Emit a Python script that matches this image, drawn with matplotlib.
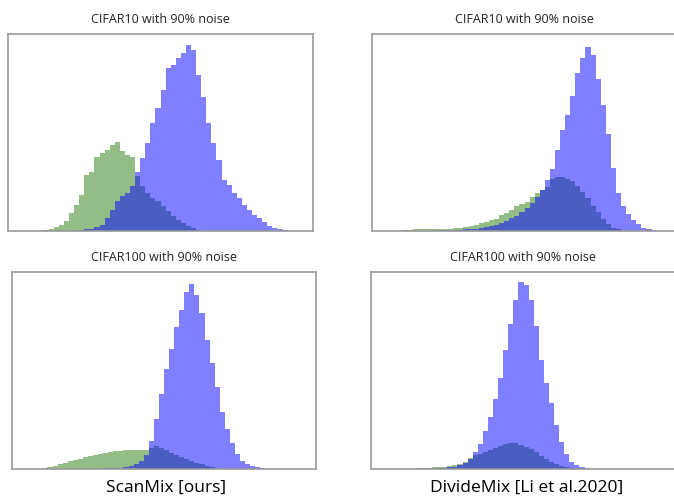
import numpy as np
import matplotlib.pyplot as plt

plt.rcParams['font.family'] = ['Open Sans', 'DejaVu Sans']

N_BINS = 60

# histogram heights, in percent of the panel height, 60 bins across each panel
scan_c10_clean = [0, 0, 0, 0, 0, 0, 0, 0.7, 1.2, 1.9,
                  3.2, 4.9, 9.1, 13.3, 18.4, 28.5, 30.2, 37.8, 39.5, 40.9,
                  43.8, 45.4, 40.4, 38.7, 37.8, 27.7, 22.6, 19.3, 16.7, 15.0,
                  12.5, 10.0, 7.8, 5.7, 4.1, 2.4, 1.4, 0.7, 0, 0,
                  0, 0, 0, 0, 0, 0, 0, 0, 0, 0,
                  0, 0, 0, 0, 0, 0, 0, 0, 0, 0]
scan_c10_noisy = [0, 0, 0, 0, 0, 0, 0, 0, 0, 0,
                  0, 0, 0, 0.3, 0.5, 0.8, 1.2, 2.0, 3.2, 6.6,
                  10.8, 15.0, 17.6, 19.3, 22.6, 30.2, 37.0, 44.6, 54.7, 62.3,
                  71.6, 82.6, 84.3, 87.7, 90.2, 94.4, 91.9, 79.2, 68.2, 54.7,
                  44.6, 36.1, 26.0, 23.5, 19.3, 16.7, 13.3, 10.8, 8.3, 6.6,
                  4.4, 2.7, 1.5, 0.8, 0.4, 0, 0, 0, 0, 0]

divide_c10_clean = [0, 0, 0, 0, 0, 0, 0.5, 0.7, 0.8, 0.8,
                    1.0, 1.0, 1.0, 1.0, 1.2, 1.0, 1.4, 1.7, 2.0, 2.5,
                    2.9, 4.1, 4.6, 5.6, 6.3, 8.1, 9.3, 10.5, 12.8, 13.5,
                    14.9, 17.2, 19.1, 20.8, 22.3, 26.2, 27.4, 27.4, 26.5, 25.3,
                    22.8, 19.9, 16.5, 12.8, 9.5, 6.1, 3.4, 1.7, 0.8, 0,
                    0, 0, 0, 0, 0, 0, 0, 0, 0, 0]
divide_c10_noisy = [0, 0, 0, 0, 0, 0, 0, 0, 0, 0,
                    0, 0, 0, 0.3, 0.4, 0.5, 0.6, 0.7, 0.8, 1.0,
                    1.2, 1.5, 1.9, 2.4, 3.0, 3.9, 5.1, 6.4, 7.8, 9.5,
                    11.5, 14.0, 17.2, 21.0, 26.0, 31.4, 40.9, 51.5, 59.0, 68.6,
                    80.0, 87.8, 93.4, 89.5, 77.0, 64.2, 49.0, 31.8, 19.4, 12.5,
                    8.6, 5.6, 3.4, 1.7, 0.8, 0.4, 0, 0, 0, 0]

scan_c100_clean = [0, 0, 0, 0, 0, 0, 0.5, 1.0, 1.4, 2.4,
                   3.2, 3.9, 4.4, 5.1, 5.9, 6.6, 7.3, 7.8, 8.3, 8.8,
                   9.0, 9.3, 9.5, 9.7, 9.8, 9.7, 9.5, 10.5, 11.7, 10.9,
                   9.5, 8.2, 7.0, 6.1, 5.1, 4.1, 3.1, 2.4, 1.5, 0.9,
                   0.3, 0, 0, 0, 0, 0, 0, 0, 0, 0,
                   0, 0, 0, 0, 0, 0, 0, 0, 0, 0]
scan_c100_noisy = [0, 0, 0, 0, 0, 0, 0, 0, 0, 0,
                   0, 0, 0, 0, 0, 0, 0, 0.2, 0.3, 0.3,
                   0.5, 0.7, 1.0, 1.5, 2.5, 4.2, 7.0, 14.0, 25.6, 38.2,
                   50.9, 61.1, 72.2, 80.6, 90.0, 94.0, 88.5, 79.3, 65.5, 53.8,
                   41.4, 28.9, 20.4, 13.2, 7.5, 4.2, 2.4, 1.4, 0.8, 0.3,
                   0, 0, 0, 0, 0, 0, 0, 0, 0, 0]

divide_c100_clean = [0, 0, 0, 0, 0, 0, 0, 0, 0, 0.3,
                     0.5, 0.7, 0.8, 1.0, 1.2, 1.5, 2.0, 2.7, 3.7, 5.6,
                     7.0, 7.8, 8.7, 9.7, 10.5, 11.5, 12.7, 13.1, 13.1, 12.4,
                     11.2, 10.0, 8.5, 6.8, 5.1, 3.6, 2.4, 1.5, 0.8, 0.4,
                     0, 0, 0, 0, 0, 0, 0, 0, 0, 0,
                     0, 0, 0, 0, 0, 0, 0, 0, 0, 0]
divide_c100_noisy = [0, 0, 0, 0, 0, 0, 0, 0, 0, 0,
                     0, 0, 0, 0.3, 0.5, 0.8, 1.2, 2.0, 3.1, 5.1,
                     8.5, 12.7, 19.4, 26.3, 35.7, 46.0, 60.6, 73.4, 85.6, 94.7,
                     93.2, 85.7, 72.5, 55.4, 43.6, 33.5, 22.4, 13.9, 7.5, 3.6,
                     2.0, 0.9, 0.4, 0, 0, 0, 0, 0, 0, 0,
                     0, 0, 0, 0, 0, 0, 0, 0, 0, 0]

titles = ["CIFAR10 with 90% noise", "CIFAR10 with 90% noise",
          "CIFAR100 with 90% noise", "CIFAR100 with 90% noise"]
methods = ["ScanMix [ours]", "DivideMix [Li et al.2020]"]

panels = [(scan_c10_clean, scan_c10_noisy),
          (divide_c10_clean, divide_c10_noisy),
          (scan_c100_clean, scan_c100_noisy),
          (divide_c100_clean, divide_c100_noisy)]

W, H = 674, 501
# axes boxes in pixels: left, top, width, height
boxes = [(8, 34, 305, 197), (372, 34, 305, 197),
         (12, 272, 304, 197), (371, 272, 305, 197)]

fig = plt.figure(figsize=(W / 100, H / 100), dpi=100)
edges = np.arange(N_BINS + 1)

for (clean, noisy), title, (l, t, w, h) in zip(panels, titles, boxes):
    ax = fig.add_axes([l / W, 1 - (t + h) / H, w / W, h / H])
    ax.stairs(clean, edges, fill=True, color='#2a7a10', alpha=0.5)
    ax.stairs(noisy, edges, fill=True, color='b', alpha=0.5)
    ax.set_xlim(0, N_BINS)
    ax.set_ylim(0, 100)
    ax.set_xticks([])
    ax.set_yticks([])
    for s in ax.spines.values():
        s.set_color('#999999')
        s.set_linewidth(1.2)
    ax.set_title(title, fontsize=9, pad=8, color='#222222')

fig.text(166 / W, 1 - 488 / H, methods[0], ha='center', va='center', fontsize=12.5)
fig.text(527 / W, 1 - 488 / H, methods[1], ha='center', va='center', fontsize=12.5)

fig.savefig('out.png', dpi=100)
